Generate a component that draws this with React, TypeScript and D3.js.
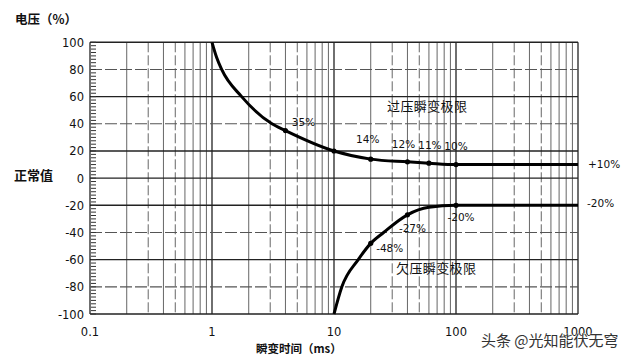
import React from "react";
import * as d3 from "d3";

// ---- data ----
const overTime = [1, 1.09, 1.2, 1.75, 3.1, 4, 10, 20, 40, 60, 100, 1000];
const overValue = [100, 89, 80, 60, 40, 35, 20, 14, 12, 11, 10, 10];
const underTime = [10, 11.6, 15.8, 20, 25.5, 40, 60, 100, 1000];
const underValue = [-100, -80, -60, -48, -40, -27, -21.5, -20, -20];

const overMarkTime = [4, 10, 20, 40, 60, 100];
const overMarkValue = [35, 20, 14, 12, 11, 10];
const underMarkTime = [20, 40, 100];
const underMarkValue = [-48, -27, -20];

const overLabelText = ["35%", "14%", "12%", "11%", "10%"];
const overLabelTime = [4, 20, 40, 60, 100];
const overLabelValue = [35, 14, 12, 11, 10];
const underLabelText = ["-48%", "-27%", "-20%"];
const underLabelTime = [20, 40, 100];
const underLabelValue = [-48, -27, -20];

const yTicks = [100, 80, 60, 40, 20, 0, -20, -40, -60, -80, -100];
const dashedY = [80, 40, -40, -80];
const xTickValues = [0.1, 1, 10, 100, 1000];
const xTickLabels = ["0.1", "1", "10", "100", "1000"];

// label offsets (layout only)
const overLabelOffset: [number, number][] = [[18, -5], [-3, -16], [-4, -14], [1, -14], [0, -15]];
const underLabelOffset: [number, number][] = [[19, 9], [5, 17], [5, 16]];

export default function App() {
  const W = 640, H = 358;
  const x = d3.scaleLog().domain([0.1, 1000]).range([90, 578]);
  const y = d3.scaleLinear().domain([-100, 100]).range([314, 42.3]);

  const line = d3.line<[number, number]>()
    .x(d => x(d[0]))
    .y(d => y(d[1]))
    .curve(d3.curveMonotoneX);

  const overPts = overTime.map((t, i) => [t, overValue[i]] as [number, number]);
  const underPts = underTime.map((t, i) => [t, underValue[i]] as [number, number]);

  const vLines: { v: number; major: boolean; dashed: boolean }[] = [];
  [0.1, 1, 10, 100].forEach(dec => {
    for (let k = 1; k <= 9; k++) {
      vLines.push({ v: dec * k, major: k === 1, dashed: k === 3 || k === 5 });
    }
  });
  vLines.push({ v: 1000, major: true, dashed: false });

  const minorY = d3.range(-100, 100.1, 2.5);
  const font = "'DejaVu Sans', Arial, sans-serif";
  const cjk = "'Noto Sans CJK SC', sans-serif";

  return (
    <svg width={W} height={H} style={{ position: "absolute", left: 0, top: 0, background: "#fff" }}>
      <rect width={W} height={H} fill="#fff" />
      {vLines.map((l, i) => (
        <line key={"v" + i} x1={x(l.v)} x2={x(l.v)} y1={y(100)} y2={y(-100)}
          stroke={l.major ? "#222" : "#666"} strokeWidth={l.major ? 1.3 : 1}
          strokeDasharray={l.dashed ? "10,3" : undefined} />
      ))}
      {yTicks.map(v => (
        <line key={"h" + v} x1={x(0.1)} x2={x(1000)} y1={y(v)} y2={y(v)}
          stroke={dashedY.includes(v) ? "#555" : "#222"}
          strokeWidth={dashedY.includes(v) ? 1.1 : 1.4}
          strokeDasharray={dashedY.includes(v) ? "12,3" : undefined} />
      ))}
      {minorY.map((v, i) => (
        <line key={"m" + i} x1={x(0.1) + 1} x2={x(0.1) + 6} y1={y(v)} y2={y(v)} stroke="#333" strokeWidth={1} />
      ))}
      {yTicks.map(v => (
        <text key={"yl" + v} x={84} y={y(v) + 4.5} textAnchor="end" fontFamily={font} fontSize={11.5} fill="#111">{String(v)}</text>
      ))}
      {xTickValues.map((v, i) => (
        <text key={"xl" + v} x={x(v)} y={336} textAnchor="middle" fontFamily={font} fontSize={11.5} fill="#111">{xTickLabels[i]}</text>
      ))}
      <path d={line(overPts) || ""} fill="none" stroke="#000" strokeWidth={3} />
      <path d={line(underPts) || ""} fill="none" stroke="#000" strokeWidth={3} />
      {overMarkTime.map((t, i) => (
        <circle key={"om" + i} cx={x(t)} cy={y(overMarkValue[i])} r={2.6} fill="#000" />
      ))}
      {underMarkTime.map((t, i) => (
        <circle key={"um" + i} cx={x(t)} cy={y(underMarkValue[i])} r={2.6} fill="#000" />
      ))}
      {overLabelText.map((s, i) => (
        <text key={"ol" + i} x={x(overLabelTime[i]) + overLabelOffset[i][0]} y={y(overLabelValue[i]) + overLabelOffset[i][1]}
          textAnchor="middle" fontFamily={font} fontSize={10.5} fill="#111">{s}</text>
      ))}
      {underLabelText.map((s, i) => (
        <text key={"ul" + i} x={x(underLabelTime[i]) + underLabelOffset[i][0]} y={y(underLabelValue[i]) + underLabelOffset[i][1]}
          textAnchor="middle" fontFamily={font} fontSize={10.5} fill="#111">{s}</text>
      ))}
      <text x={588} y={168} fontFamily={font} fontSize={10.5} fill="#111">+10%</text>
      <text x={587} y={207} fontFamily={font} fontSize={10.5} fill="#111">-20%</text>
      <text x={387} y={111} fontFamily={cjk} fontSize={13} fill="#111" textLength={80}>过压瞬变极限</text>
      <text x={396} y={273} fontFamily={cjk} fontSize={13} fill="#111" textLength={80}>欠压瞬变极限</text>
      <text x={15} y={24} fontFamily={cjk} fontSize={12.5} fontWeight="bold" fill="#111">电压（%）</text>
      <text x={14} y={180} fontFamily={cjk} fontSize={13} fontWeight="bold" fill="#111">正常值</text>
      <text x={256} y={353} fontFamily={cjk} fontSize={11.5} fontWeight="bold" fill="#111">瞬变时间（ms）</text>
      <text x={481} y={346} fontFamily={cjk} fontSize={15} fill="#333" stroke="#fff" strokeWidth={0.6} paintOrder="stroke">头条 @光知能伏无穹</text>
    </svg>
  );
}
